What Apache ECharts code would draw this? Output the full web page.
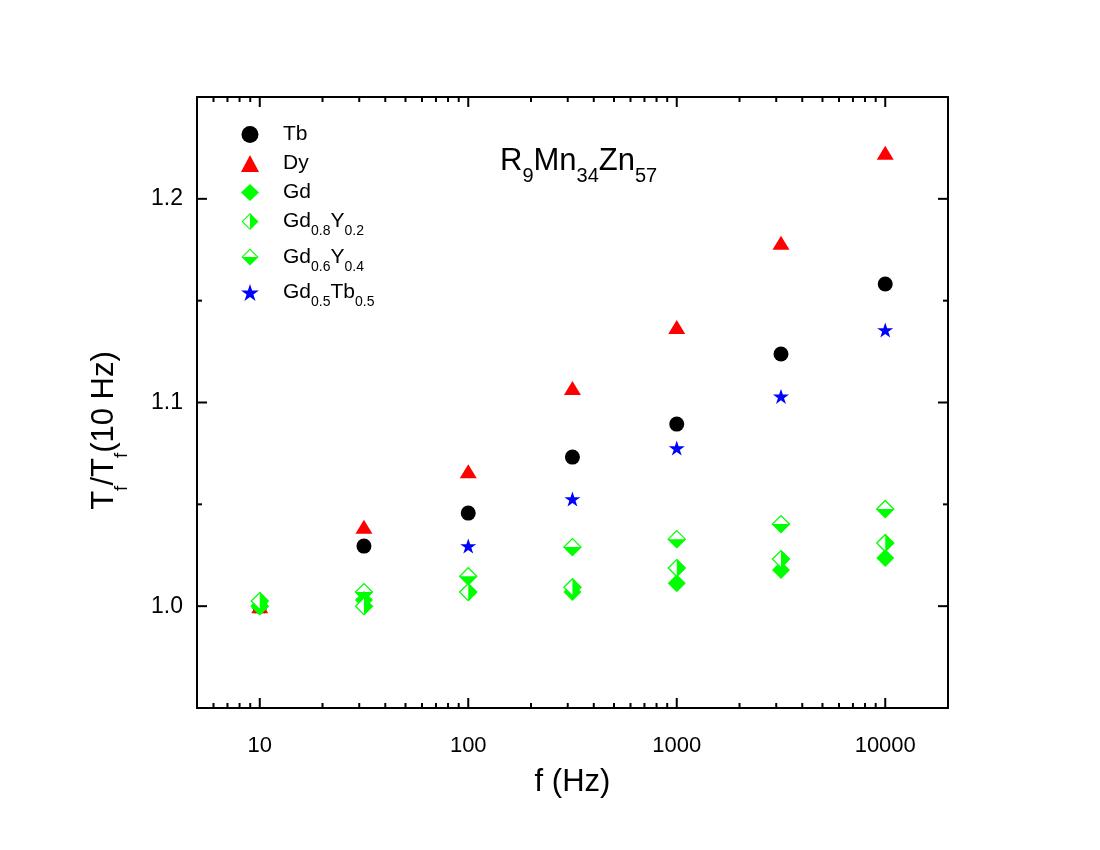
<!DOCTYPE html>
<html>
<head>
<meta charset="utf-8">
<script src="https://cdn.jsdelivr.net/npm/echarts@6/dist/echarts.min.js"></script>
<style>
html, body { margin: 0; padding: 0; background: #fff; }
#chart { width: 1100px; height: 850px; }
</style>
</head>
<body>
<div id="chart"></div>
<script>
// frequencies (Hz) and normalised freezing temperatures Tf/Tf(10 Hz)
var freq = [10, 31.6, 100, 316, 1000, 3162, 10000];
var tb = [1.0, 1.0295, 1.0457, 1.0732, 1.0894, 1.1238, 1.1582];
var dy = [1.0, 1.0390, 1.0663, 1.1071, 1.1371, 1.1784, 1.2226];
var gd = [1.0, 1.0030, 1.0069, 1.0070, 1.0113, 1.0177, 1.0236];
var gd08y02 = [1.0025, 1.0, 1.0069, 1.0093, 1.0187, 1.0231, 1.0310];
var gd06y04 = [1.0, 1.0069, 1.0147, 1.0290, 1.0329, 1.0403, 1.0477];
var gd05tb05 = [1.0, 1.0030, 1.0295, 1.0526, 1.0776, 1.1030, 1.1356];

// axes
var X_MIN = 5, X_MAX = 20000;
var Y_MIN = 0.95, Y_MAX = 1.25;
var xMajorTicks = [10, 100, 1000, 10000];
var xMinorTicks = [6, 7, 8, 9, 20, 30, 40, 50, 60, 70, 80, 90,
  200, 300, 400, 500, 600, 700, 800, 900,
  2000, 3000, 4000, 5000, 6000, 7000, 8000, 9000];
var yLabels = [1.0, 1.1, 1.2];
var yMinorTicks = [1.05, 1.15];

var FONT = 'Liberation Sans';
var GREEN = '#00ff00';

var starPath = 'path://M10 0L12.25 6.91L19.51 6.91L13.63 11.18L15.88 18.09L10 13.82L4.12 18.09L6.37 11.18L0.49 6.91L7.75 6.91Z';
var rightHalf = 'path://M10 0L20 10L10 20Z';
var bottomHalf = 'path://M0 10L20 10L10 20Z';
var ringRight = 'path://M10 0L20 10L10 20L0 10Z M10 1.8L1.8 10L10 18.2L18.2 10Z M10 0L20 10L10 20Z';
var ringBottom = 'path://M10 0L20 10L10 20L0 10Z M10 1.8L1.8 10L10 18.2L18.2 10Z M0 10L20 10L10 20Z';

var legendText = {
  'Tb': 'Tb',
  'Dy': 'Dy',
  'Gd': 'Gd',
  'Gd0.8Y0.2': 'Gd{s|0.8}Y{s|0.2}',
  'Gd0.6Y0.4': 'Gd{s|0.6}Y{s|0.4}',
  'Gd0.5Tb0.5': 'Gd{s|0.5}Tb{s|0.5}'
};

function pairs(ys) {
  return freq.map(function (f, i) { return [f, ys[i]]; });
}

function isDecade(v) {
  var l = Math.log(v) / Math.LN10;
  return Math.abs(l - Math.round(l)) < 1e-6;
}

function xTicks(len) {
  return function (params, api) {
    var v = api.value(0);
    var b = api.coord([v, Y_MIN]);
    var t = api.coord([v, Y_MAX]);
    return {
      type: 'group',
      children: [
        { type: 'line', shape: { x1: b[0], y1: b[1], x2: b[0], y2: b[1] - len }, style: { stroke: '#000', lineWidth: 2 } },
        { type: 'line', shape: { x1: t[0], y1: t[1], x2: t[0], y2: t[1] + len }, style: { stroke: '#000', lineWidth: 2 } }
      ]
    };
  };
}

function yTicks(len) {
  return function (params, api) {
    var v = api.value(1);
    var l = api.coord([X_MIN, v]);
    var r = api.coord([X_MAX, v]);
    return {
      type: 'group',
      children: [
        { type: 'line', shape: { x1: l[0], y1: l[1], x2: l[0] + len, y2: l[1] }, style: { stroke: '#000', lineWidth: 2 } },
        { type: 'line', shape: { x1: r[0], y1: r[1], x2: r[0] - len, y2: r[1] }, style: { stroke: '#000', lineWidth: 2 } }
      ]
    };
  };
}

var chart = echarts.init(document.getElementById('chart'));

var frameLine = { show: true, onZero: false, lineStyle: { color: '#000', width: 2 } };

chart.setOption({
  animation: false,
  backgroundColor: '#fff',
  title: {
    text: '{n|R}{s|9}{n|Mn}{s|34}{n|Zn}{s|57}',
    left: 495,
    top: 131,
    textStyle: {
      fontWeight: 'normal',
      rich: {
        n: { fontFamily: FONT, fontSize: 31, fontWeight: 'normal', color: '#000' },
        s: { fontFamily: FONT, fontSize: 20, fontWeight: 'normal', color: '#000', padding: [30, 0, 0, 0] }
      }
    }
  },
  legend: {
    orient: 'vertical',
    left: 236,
    top: 119,
    itemWidth: 18,
    itemHeight: 17,
    itemGap: 8,
    selectedMode: false,
    formatter: function (name) { return '{g|}' + legendText[name]; },
    textStyle: {
      fontFamily: FONT, fontSize: 21, color: '#000',
      rich: {
        g: { width: 19 },
        s: { fontFamily: FONT, fontSize: 14, color: '#000', padding: [20, 0, 0, 0] }
      }
    },
    data: [
      { name: 'Tb', icon: 'circle' },
      { name: 'Dy', icon: 'triangle' },
      { name: 'Gd', icon: 'diamond' },
      { name: 'Gd0.8Y0.2', icon: ringRight, itemStyle: { color: GREEN, borderWidth: 0, opacity: 1 } },
      { name: 'Gd0.6Y0.4', icon: ringBottom, itemStyle: { color: GREEN, borderWidth: 0, opacity: 1 } },
      { name: 'Gd0.5Tb0.5', icon: starPath }
    ]
  },
  grid: { left: 197, right: 152, top: 97, bottom: 142 },
  xAxis: [
    {
      type: 'log', logBase: 10, min: X_MIN, max: X_MAX, position: 'bottom',
      axisLine: frameLine, axisTick: { show: false }, splitLine: { show: false },
      axisLabel: {
        margin: 27, fontFamily: FONT, fontSize: 22, color: '#000',
        showMinLabel: false, showMaxLabel: false,
        formatter: function (v) { return isDecade(v) ? String(Math.round(v)) : ''; }
      },
      name: 'f (Hz)', nameLocation: 'middle', nameGap: 59,
      nameTextStyle: { fontFamily: FONT, fontSize: 31, color: '#000' }
    },
    {
      type: 'log', logBase: 10, min: X_MIN, max: X_MAX, position: 'top',
      axisLine: frameLine, axisTick: { show: false }, splitLine: { show: false },
      axisLabel: { show: false }
    }
  ],
  yAxis: [
    {
      type: 'value', min: Y_MIN, max: Y_MAX, interval: 0.05, position: 'left',
      axisLine: frameLine, axisTick: { show: false }, splitLine: { show: false },
      axisLabel: {
        margin: 14, fontFamily: FONT, fontSize: 23, color: '#000',
        formatter: function (v) {
          for (var i = 0; i < yLabels.length; i++) {
            if (Math.abs(v - yLabels[i]) < 1e-6) return yLabels[i].toFixed(1);
          }
          return '';
        }
      },
      name: 'T{s|f}/T{s|f}(10 Hz)', nameLocation: 'middle', nameGap: 66, nameRotate: 90,
      nameTextStyle: {
        fontFamily: FONT, fontSize: 31, color: '#000', padding: [0, 56, 0, 0],
        rich: { s: { fontFamily: FONT, fontSize: 19, color: '#000', padding: [34, 0, 0, 0] } }
      }
    },
    {
      type: 'value', min: Y_MIN, max: Y_MAX, interval: 0.05, position: 'right',
      axisLine: frameLine, axisTick: { show: false }, splitLine: { show: false },
      axisLabel: { show: false }
    }
  ],
  series: [
    { name: 'Gd0.5Tb0.5', type: 'scatter', data: pairs(gd05tb05), symbol: starPath, symbolSize: [16, 15], itemStyle: { color: '#0000ff', opacity: 1 } },
    { name: 'Tb', type: 'scatter', data: pairs(tb), symbol: 'circle', symbolSize: 15, itemStyle: { color: '#000', opacity: 1 } },
    { name: 'Dy', type: 'scatter', data: pairs(dy), symbol: 'triangle', symbolSize: [17, 14], itemStyle: { color: '#ff0000', opacity: 1 } },
    { name: 'Gd0.6Y0.4', type: 'scatter', data: pairs(gd06y04), symbol: 'diamond', symbolSize: 17,
      itemStyle: { color: '#fff', borderColor: GREEN, borderWidth: 1.3, opacity: 1 } },
    { name: 'Gd0.6Y0.4', type: 'scatter', data: pairs(gd06y04), symbol: bottomHalf, symbolSize: [18, 9], symbolOffset: [0, 4.5],
      itemStyle: { color: GREEN, opacity: 1 } },
    { name: 'Gd', type: 'scatter', data: pairs(gd), symbol: 'diamond', symbolSize: 18, itemStyle: { color: GREEN, opacity: 1 } },
    { name: 'Gd0.8Y0.2', type: 'scatter', data: pairs(gd08y02), symbol: 'diamond', symbolSize: 17,
      itemStyle: { color: '#fff', borderColor: GREEN, borderWidth: 1.3, opacity: 1 } },
    { name: 'Gd0.8Y0.2', type: 'scatter', data: pairs(gd08y02), symbol: rightHalf, symbolSize: [9, 18], symbolOffset: [4.5, 0],
      itemStyle: { color: GREEN, opacity: 1 } },
    { type: 'custom', silent: true, clip: false, renderItem: xTicks(10), data: xMajorTicks.map(function (v) { return [v, Y_MIN]; }), z: 5 },
    { type: 'custom', silent: true, clip: false, renderItem: xTicks(5), data: xMinorTicks.map(function (v) { return [v, Y_MIN]; }), z: 5 },
    { type: 'custom', silent: true, clip: false, renderItem: yTicks(10), data: yLabels.map(function (v) { return [X_MIN, v]; }), z: 5 },
    { type: 'custom', silent: true, clip: false, renderItem: yTicks(5), data: yMinorTicks.map(function (v) { return [X_MIN, v]; }), z: 5 }
  ]
});
</script>
</body>
</html>
